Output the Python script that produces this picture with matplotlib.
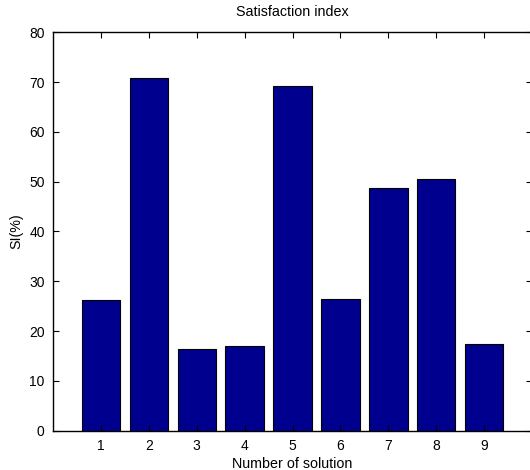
import matplotlib
matplotlib.use("Agg")
import matplotlib.pyplot as plt

solutions = [1, 2, 3, 4, 5, 6, 7, 8, 9]
si_values = [26.2, 70.9, 16.4, 17.1, 69.3, 26.4, 48.7, 50.5, 17.5]
yticks = [0, 10, 20, 30, 40, 50, 60, 70, 80]

plt.rcParams['font.family'] = ['Liberation Sans', 'DejaVu Sans']

fig = plt.figure(figsize=(5.3, 4.7), dpi=100)
ax = fig.add_axes([0.1, 0.0836, 0.904, 0.8477])
ax.bar(solutions, si_values, width=0.8, color='#00008e', edgecolor='black', linewidth=0.8)
ax.set_xlim(0, 10)
ax.set_ylim(0, 80)
ax.set_xticks(solutions)
ax.set_yticks(yticks)
ax.tick_params(direction='in', top=True, right=True, length=4, width=0.8, labelsize=10, pad=6)
for s in ax.spines.values():
    s.set_linewidth(1.0)
ax.set_title('Satisfaction index', fontsize=10.3, pad=12)
ax.set_xlabel('Number of solution', fontsize=10.3, labelpad=3)
ax.set_ylabel('SI(%)', fontsize=10.3, labelpad=4)
fig.savefig('out.png', dpi=100)
